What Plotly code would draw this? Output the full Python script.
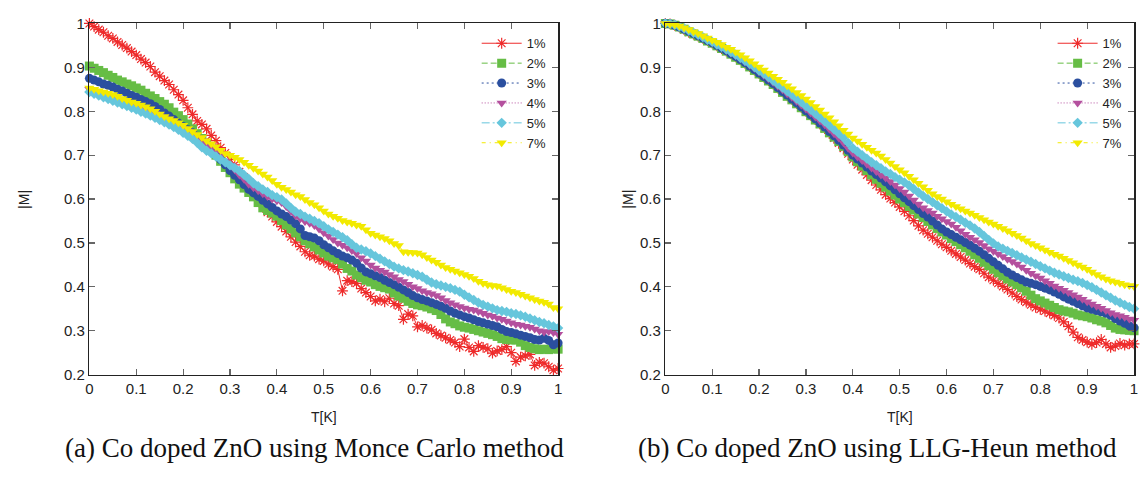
import plotly.graph_objects as go

# ---------------- data ----------------
T = [round(i * 0.01, 2) for i in range(101)]
labels = ["1%", "2%", "3%", "4%", "5%", "7%"]

# (a) Monte Carlo
mc_1 = [1.000, 0.993, 0.986, 0.980, 0.972, 0.966, 0.958, 0.951, 0.944, 0.936,
        0.928, 0.919, 0.911, 0.902, 0.889, 0.880, 0.870, 0.861, 0.849, 0.838,
        0.825, 0.808, 0.793, 0.778, 0.770, 0.760, 0.745, 0.733, 0.717, 0.705,
        0.690, 0.678, 0.662, 0.650, 0.633, 0.620, 0.603, 0.588, 0.570, 0.560,
        0.548, 0.537, 0.526, 0.514, 0.502, 0.492, 0.480, 0.472, 0.470, 0.463,
        0.459, 0.452, 0.446, 0.440, 0.391, 0.414, 0.412, 0.408, 0.396, 0.387,
        0.378, 0.368, 0.372, 0.366, 0.374, 0.362, 0.357, 0.326, 0.338, 0.334,
        0.309, 0.312, 0.306, 0.302, 0.294, 0.289, 0.284, 0.279, 0.273, 0.264,
        0.281, 0.262, 0.253, 0.266, 0.262, 0.259, 0.249, 0.254, 0.257, 0.264,
        0.250, 0.230, 0.240, 0.243, 0.246, 0.221, 0.228, 0.226, 0.218, 0.210,
        0.214]
mc_2 = [0.903, 0.898, 0.893, 0.888, 0.882, 0.877, 0.871, 0.867, 0.862, 0.858,
        0.853, 0.848, 0.841, 0.835, 0.829, 0.822, 0.816, 0.808, 0.798, 0.790,
        0.781, 0.771, 0.760, 0.749, 0.738, 0.727, 0.714, 0.700, 0.686, 0.672,
        0.660, 0.646, 0.634, 0.625, 0.615, 0.605, 0.592, 0.580, 0.574, 0.568,
        0.561, 0.551, 0.541, 0.532, 0.523, 0.514, 0.505, 0.498, 0.491, 0.484,
        0.477, 0.470, 0.466, 0.462, 0.452, 0.442, 0.436, 0.427, 0.421, 0.415,
        0.411, 0.405, 0.401, 0.398, 0.395, 0.386, 0.379, 0.374, 0.367, 0.362,
        0.359, 0.357, 0.354, 0.350, 0.346, 0.337, 0.327, 0.320, 0.316, 0.311,
        0.308, 0.306, 0.303, 0.300, 0.297, 0.294, 0.291, 0.287, 0.282, 0.280,
        0.279, 0.279, 0.274, 0.266, 0.262, 0.259, 0.257, 0.258, 0.257, 0.259,
        0.258]
mc_3 = [0.875, 0.871, 0.867, 0.862, 0.859, 0.855, 0.850, 0.846, 0.841, 0.836,
        0.832, 0.827, 0.822, 0.817, 0.811, 0.804, 0.796, 0.789, 0.781, 0.773,
        0.765, 0.758, 0.751, 0.741, 0.732, 0.722, 0.712, 0.701, 0.690, 0.678,
        0.665, 0.654, 0.644, 0.633, 0.622, 0.614, 0.606, 0.597, 0.589, 0.581,
        0.573, 0.566, 0.560, 0.552, 0.544, 0.532, 0.517, 0.514, 0.511, 0.505,
        0.496, 0.489, 0.482, 0.476, 0.470, 0.466, 0.461, 0.454, 0.443, 0.434,
        0.430, 0.425, 0.421, 0.415, 0.410, 0.405, 0.399, 0.393, 0.387, 0.380,
        0.375, 0.371, 0.368, 0.364, 0.360, 0.356, 0.351, 0.345, 0.340, 0.336,
        0.332, 0.329, 0.325, 0.321, 0.318, 0.315, 0.312, 0.309, 0.303, 0.298,
        0.296, 0.293, 0.290, 0.287, 0.284, 0.280, 0.279, 0.283, 0.278, 0.268,
        0.272]
mc_4 = [0.850, 0.846, 0.843, 0.839, 0.836, 0.832, 0.828, 0.825, 0.821, 0.817,
        0.813, 0.809, 0.804, 0.800, 0.795, 0.790, 0.785, 0.779, 0.774, 0.768,
        0.761, 0.755, 0.748, 0.740, 0.733, 0.724, 0.716, 0.707, 0.698, 0.687,
        0.677, 0.667, 0.655, 0.645, 0.634, 0.626, 0.619, 0.612, 0.606, 0.600,
        0.596, 0.592, 0.583, 0.572, 0.562, 0.555, 0.549, 0.545, 0.540, 0.532,
        0.523, 0.516, 0.508, 0.500, 0.495, 0.489, 0.483, 0.476, 0.466, 0.459,
        0.450, 0.443, 0.438, 0.434, 0.428, 0.423, 0.417, 0.412, 0.406, 0.400,
        0.396, 0.391, 0.387, 0.384, 0.380, 0.375, 0.369, 0.364, 0.359, 0.355,
        0.352, 0.349, 0.347, 0.344, 0.340, 0.336, 0.333, 0.329, 0.326, 0.322,
        0.318, 0.315, 0.313, 0.310, 0.308, 0.304, 0.300, 0.297, 0.298, 0.296,
        0.292]
mc_5 = [0.844, 0.840, 0.836, 0.832, 0.828, 0.824, 0.820, 0.816, 0.812, 0.808,
        0.804, 0.799, 0.795, 0.790, 0.785, 0.780, 0.775, 0.770, 0.764, 0.758,
        0.751, 0.744, 0.737, 0.728, 0.718, 0.710, 0.704, 0.697, 0.690, 0.684,
        0.677, 0.671, 0.664, 0.655, 0.646, 0.636, 0.629, 0.622, 0.616, 0.609,
        0.604, 0.599, 0.590, 0.580, 0.571, 0.566, 0.560, 0.555, 0.550, 0.545,
        0.538, 0.531, 0.525, 0.519, 0.513, 0.506, 0.497, 0.489, 0.485, 0.481,
        0.476, 0.470, 0.464, 0.458, 0.452, 0.446, 0.442, 0.438, 0.435, 0.431,
        0.427, 0.423, 0.416, 0.410, 0.406, 0.403, 0.400, 0.397, 0.393, 0.389,
        0.382, 0.376, 0.370, 0.364, 0.359, 0.355, 0.351, 0.347, 0.345, 0.343,
        0.340, 0.338, 0.335, 0.332, 0.328, 0.324, 0.320, 0.317, 0.313, 0.310,
        0.306]
mc_7 = [0.853, 0.850, 0.847, 0.844, 0.841, 0.838, 0.834, 0.829, 0.825, 0.821,
        0.818, 0.814, 0.810, 0.806, 0.800, 0.794, 0.788, 0.783, 0.779, 0.774,
        0.768, 0.761, 0.754, 0.747, 0.740, 0.733, 0.726, 0.719, 0.711, 0.704,
        0.700, 0.695, 0.690, 0.684, 0.677, 0.670, 0.664, 0.657, 0.650, 0.642,
        0.634, 0.627, 0.622, 0.616, 0.610, 0.606, 0.599, 0.592, 0.587, 0.580,
        0.573, 0.566, 0.561, 0.556, 0.551, 0.548, 0.545, 0.541, 0.538, 0.530,
        0.522, 0.518, 0.514, 0.510, 0.505, 0.499, 0.494, 0.480, 0.479, 0.478,
        0.477, 0.473, 0.467, 0.461, 0.456, 0.450, 0.444, 0.440, 0.436, 0.432,
        0.428, 0.424, 0.419, 0.413, 0.408, 0.405, 0.403, 0.402, 0.398, 0.394,
        0.390, 0.387, 0.383, 0.379, 0.375, 0.371, 0.368, 0.365, 0.361, 0.353,
        0.350]

# (b) LLG-Heun
llg_1 = [1.000, 0.999, 0.996, 0.992, 0.986, 0.980, 0.976, 0.971, 0.966, 0.961,
         0.955, 0.949, 0.943, 0.937, 0.931, 0.924, 0.917, 0.909, 0.902, 0.894,
         0.886, 0.878, 0.870, 0.862, 0.853, 0.844, 0.835, 0.827, 0.818, 0.809,
         0.800, 0.791, 0.781, 0.771, 0.761, 0.750, 0.739, 0.728, 0.716, 0.703,
         0.690, 0.678, 0.667, 0.655, 0.643, 0.632, 0.621, 0.610, 0.601, 0.592,
         0.582, 0.572, 0.562, 0.551, 0.539, 0.529, 0.521, 0.513, 0.505, 0.497,
         0.490, 0.482, 0.475, 0.468, 0.461, 0.453, 0.446, 0.440, 0.431, 0.422,
         0.415, 0.408, 0.401, 0.394, 0.386, 0.378, 0.371, 0.365, 0.359, 0.353,
         0.349, 0.345, 0.340, 0.335, 0.329, 0.320, 0.310, 0.297, 0.285, 0.279,
         0.274, 0.269, 0.273, 0.280, 0.270, 0.262, 0.265, 0.271, 0.267, 0.270,
         0.270]
llg_2 = [1.000, 0.999, 0.996, 0.992, 0.987, 0.981, 0.976, 0.971, 0.966, 0.960,
         0.955, 0.949, 0.943, 0.937, 0.930, 0.923, 0.916, 0.909, 0.901, 0.893,
         0.885, 0.877, 0.869, 0.861, 0.852, 0.843, 0.834, 0.826, 0.817, 0.808,
         0.799, 0.790, 0.780, 0.771, 0.761, 0.751, 0.741, 0.731, 0.720, 0.708,
         0.696, 0.685, 0.675, 0.665, 0.655, 0.645, 0.636, 0.627, 0.618, 0.609,
         0.600, 0.592, 0.583, 0.575, 0.566, 0.558, 0.549, 0.541, 0.533, 0.525,
         0.518, 0.510, 0.503, 0.496, 0.489, 0.481, 0.473, 0.465, 0.456, 0.448,
         0.440, 0.432, 0.425, 0.418, 0.411, 0.405, 0.398, 0.390, 0.381, 0.373,
         0.368, 0.363, 0.358, 0.353, 0.348, 0.345, 0.343, 0.340, 0.336, 0.334,
         0.332, 0.329, 0.325, 0.322, 0.318, 0.312, 0.306, 0.303, 0.302, 0.301,
         0.300]
llg_3 = [1.000, 0.999, 0.996, 0.992, 0.987, 0.982, 0.977, 0.972, 0.967, 0.961,
         0.956, 0.950, 0.944, 0.938, 0.931, 0.925, 0.918, 0.911, 0.903, 0.895,
         0.887, 0.879, 0.871, 0.863, 0.854, 0.845, 0.837, 0.828, 0.819, 0.810,
         0.801, 0.792, 0.783, 0.773, 0.764, 0.754, 0.744, 0.734, 0.723, 0.711,
         0.700, 0.691, 0.682, 0.673, 0.664, 0.656, 0.648, 0.639, 0.630, 0.621,
         0.612, 0.603, 0.594, 0.585, 0.576, 0.567, 0.559, 0.550, 0.541, 0.532,
         0.525, 0.519, 0.513, 0.507, 0.501, 0.495, 0.488, 0.481, 0.473, 0.465,
         0.457, 0.449, 0.441, 0.433, 0.427, 0.421, 0.416, 0.411, 0.408, 0.405,
         0.401, 0.397, 0.393, 0.388, 0.383, 0.377, 0.372, 0.367, 0.362, 0.357,
         0.352, 0.349, 0.346, 0.343, 0.340, 0.335, 0.328, 0.322, 0.317, 0.311,
         0.307]
llg_4 = [1.000, 0.999, 0.997, 0.993, 0.988, 0.983, 0.978, 0.973, 0.968, 0.962,
         0.957, 0.951, 0.945, 0.939, 0.933, 0.927, 0.920, 0.913, 0.905, 0.898,
         0.890, 0.882, 0.874, 0.866, 0.857, 0.849, 0.840, 0.832, 0.823, 0.814,
         0.805, 0.796, 0.787, 0.778, 0.769, 0.759, 0.749, 0.739, 0.728, 0.716,
         0.705, 0.696, 0.688, 0.679, 0.671, 0.663, 0.655, 0.648, 0.640, 0.632,
         0.624, 0.616, 0.607, 0.598, 0.589, 0.580, 0.574, 0.568, 0.561, 0.555,
         0.549, 0.543, 0.536, 0.528, 0.520, 0.513, 0.507, 0.501, 0.494, 0.487,
         0.481, 0.475, 0.469, 0.463, 0.458, 0.452, 0.445, 0.438, 0.431, 0.425,
         0.420, 0.414, 0.408, 0.402, 0.397, 0.392, 0.387, 0.382, 0.377, 0.372,
         0.366, 0.361, 0.356, 0.351, 0.346, 0.341, 0.337, 0.334, 0.331, 0.327,
         0.324]
llg_5 = [1.000, 0.999, 0.997, 0.993, 0.989, 0.984, 0.979, 0.974, 0.969, 0.963,
         0.958, 0.952, 0.947, 0.941, 0.935, 0.929, 0.922, 0.915, 0.908, 0.901,
         0.893, 0.886, 0.878, 0.870, 0.862, 0.854, 0.846, 0.838, 0.829, 0.821,
         0.812, 0.804, 0.795, 0.786, 0.777, 0.768, 0.759, 0.750, 0.740, 0.728,
         0.716, 0.708, 0.700, 0.692, 0.684, 0.677, 0.670, 0.663, 0.657, 0.650,
         0.644, 0.638, 0.631, 0.623, 0.615, 0.607, 0.600, 0.593, 0.586, 0.579,
         0.572, 0.565, 0.559, 0.553, 0.546, 0.540, 0.533, 0.525, 0.516, 0.507,
         0.499, 0.492, 0.487, 0.482, 0.477, 0.472, 0.467, 0.462, 0.457, 0.452,
         0.447, 0.442, 0.437, 0.432, 0.428, 0.424, 0.420, 0.416, 0.413, 0.409,
         0.404, 0.399, 0.393, 0.387, 0.381, 0.375, 0.369, 0.364, 0.359, 0.354,
         0.350]
llg_7 = [1.000, 0.999, 0.997, 0.994, 0.990, 0.986, 0.981, 0.977, 0.972, 0.967,
         0.962, 0.957, 0.952, 0.946, 0.941, 0.935, 0.929, 0.922, 0.915, 0.908,
         0.901, 0.894, 0.887, 0.880, 0.873, 0.866, 0.858, 0.851, 0.843, 0.836,
         0.828, 0.820, 0.811, 0.803, 0.794, 0.785, 0.776, 0.767, 0.757, 0.748,
         0.739, 0.732, 0.725, 0.718, 0.711, 0.705, 0.698, 0.690, 0.682, 0.674,
         0.667, 0.660, 0.652, 0.644, 0.636, 0.628, 0.620, 0.612, 0.606, 0.600,
         0.594, 0.588, 0.583, 0.578, 0.573, 0.568, 0.563, 0.558, 0.553, 0.548,
         0.543, 0.538, 0.533, 0.528, 0.522, 0.517, 0.511, 0.505, 0.499, 0.494,
         0.489, 0.484, 0.479, 0.474, 0.470, 0.465, 0.460, 0.455, 0.450, 0.445,
         0.440, 0.434, 0.428, 0.423, 0.418, 0.414, 0.411, 0.408, 0.405, 0.403,
         0.401]

mc_series = [mc_1, mc_2, mc_3, mc_4, mc_5, mc_7]
llg_series = [llg_1, llg_2, llg_3, llg_4, llg_5, llg_7]

x_ticks = [0, 0.1, 0.2, 0.3, 0.4, 0.5, 0.6, 0.7, 0.8, 0.9, 1]
y_ticks = [0.2, 0.3, 0.4, 0.5, 0.6, 0.7, 0.8, 0.9, 1]

# ---------------- styles ----------------
colors = ["#ee2b2b", "#66bd45", "#2b4f9f", "#b4509e", "#66c6dc", "#f2ea00"]
symbols = ["asterisk-open", "square", "circle", "triangle-down", "diamond", "triangle-down"]
sizes = [9, 9, 9, 9, 8, 9]
dashes = ["solid", "6px,3px", "2px,3px", "1px,2px", "8px,3px,2px,3px", "4px,4px,1px,4px"]

W, H = 1145, 482
def px_x(p):
    return p / W
def px_y(p):
    return 1 - p / H

fig = go.Figure()

panels = [("x", "y", "legend", mc_series), ("x2", "y2", "legend2", llg_series)]
for xa, ya, lg, series in panels:
    for i, vals in enumerate(series):
        sym = symbols[i]
        marker = dict(symbol=sym, size=sizes[i], color=colors[i])
        if sym == "asterisk-open":
            marker["line"] = dict(color=colors[i], width=1.2)
        else:
            marker["line"] = dict(width=0)
        fig.add_trace(go.Scatter(
            x=T, y=vals, mode="lines+markers", name=labels[i],
            xaxis=xa, yaxis=ya, legend=lg, cliponaxis=False,
            line=dict(color=colors[i], width=1, dash=dashes[i]),
            marker=marker, hoverinfo="skip",
        ))

tick_font = dict(family="Liberation Sans, Arial, sans-serif", size=15, color="#222")
axis_common = dict(
    showline=True, linecolor="#222", linewidth=1.5, mirror="ticks",
    ticks="inside", ticklen=6, tickwidth=1.2, tickcolor="#666",
    showgrid=False, zeroline=False, tickfont=tick_font,
)
xdom1 = [px_x(86), px_x(558)]
xdom2 = [px_x(666), px_x(1138)]
ydom = [px_y(379), px_y(15)]

legend_font = dict(family="Liberation Sans, Arial, sans-serif", size=13, color="#222")
fig.update_layout(
    width=W, height=H,
    margin=dict(l=0, r=0, t=0, b=0),
    paper_bgcolor="white", plot_bgcolor="white",
    hovermode=False,
    xaxis=dict(domain=xdom1, range=[0, 1], tickvals=x_ticks, anchor="y", **axis_common),
    yaxis=dict(domain=ydom, range=[0.2, 1], tickvals=y_ticks, anchor="x", **axis_common),
    xaxis2=dict(domain=xdom2, range=[0, 1], tickvals=x_ticks, anchor="y2", **axis_common),
    yaxis2=dict(domain=ydom, range=[0.2, 1], tickvals=y_ticks, anchor="x2", **axis_common),
    legend=dict(x=px_x(476), y=px_y(20), xanchor="left", yanchor="top",
                bgcolor="rgba(0,0,0,0)", font=legend_font, itemwidth=40, tracegroupgap=0),
    legend2=dict(x=px_x(1056), y=px_y(20), xanchor="left", yanchor="top",
                 bgcolor="rgba(0,0,0,0)", font=legend_font, itemwidth=40, tracegroupgap=0),
    showlegend=True,
)

label_font = dict(family="Liberation Sans, Arial, sans-serif", size=14, color="#222")
cap_font = dict(family="Liberation Serif, Times New Roman, serif", size=27, color="#111")
ann = [
    dict(text="T[K]", x=px_x(322), y=px_y(423), font=label_font),
    dict(text="T[K]", x=px_x(902), y=px_y(423), font=label_font),
    dict(text="|M|", x=px_x(20), y=px_y(197), font=label_font, textangle=-90),
    dict(text="|M|", x=px_x(628), y=px_y(197), font=label_font, textangle=-90),
    dict(text="(a) Co doped ZnO using Monce Carlo method", x=px_x(313), y=px_y(455), font=cap_font),
    dict(text="(b) Co doped ZnO using LLG-Heun method", x=px_x(880), y=px_y(455), font=cap_font),
]
for a in ann:
    fig.add_annotation(xref="paper", yref="paper", showarrow=False,
                       xanchor="center", yanchor="middle", **a)

fig.write_html(
    "out.html",
    config={"displayModeBar": False, "staticPlot": True},
    post_script="document.body.style.margin='0';document.body.style.padding='0';"
                "document.documentElement.style.overflow='hidden';",
)
